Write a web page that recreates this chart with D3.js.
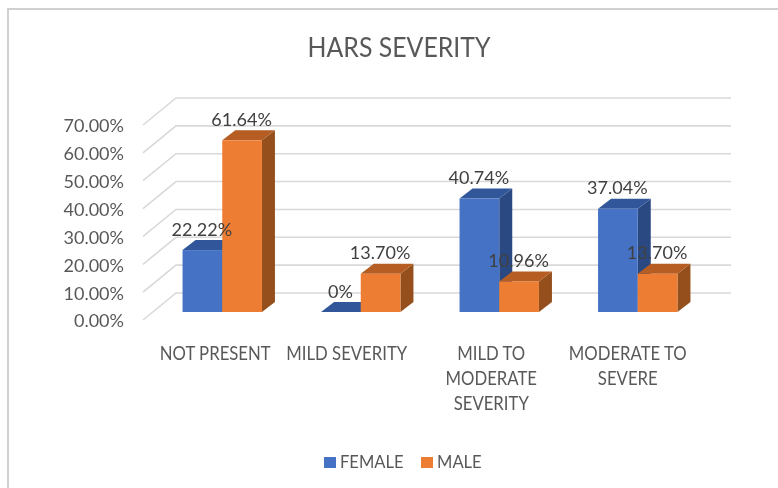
<!DOCTYPE html>
<html>
<head>
<meta charset="utf-8">
<script src="https://cdn.jsdelivr.net/npm/d3@7"></script>
<style>
  html, body { margin: 0; padding: 0; background: #fff; }
  svg { display: block; }
  text { font-family: Lato, "Open Sans", sans-serif; }
</style>
</head>
<body>
<svg id="chart"></svg>
<script>
  const categories = ["NOT PRESENT", "MILD SEVERITY", "MILD TO MODERATE SEVERITY", "MODERATE TO SEVERE"];
  const categoryLines = [["NOT PRESENT"], ["MILD SEVERITY"], ["MILD TO", "MODERATE", "SEVERITY"], ["MODERATE TO", "SEVERE"]];
  const seriesNames = ["FEMALE", "MALE"];
  const femaleValues = [22.22, 0, 40.74, 37.04];
  const maleValues = [61.64, 13.70, 10.96, 13.70];
  const femaleLabels = ["22.22%", "0%", "40.74%", "37.04%"];
  const maleLabels = ["61.64%", "13.70%", "10.96%", "13.70%"];
  const yTicks = [0, 10, 20, 30, 40, 50, 60, 70];

  const width = 778, height = 488;

  // Depth of the back wall and of the bars, as drawn by the 3D chart
  const wallDx = 33, wallDy = 27;
  const barShiftX = 10, barShiftY = 8;
  const barDx = 13, barDy = 10;
  const barWidth = 39.7;

  // Category labels sit a little unevenly in the reference
  const labelNudge = [1, -6, 0, -2];

  const colors = {
    FEMALE: { front: "#4472c4", top: "#33579a", side: "#2a4a82" },
    MALE: { front: "#ed7d31", top: "#b55d20", side: "#94501b" },
  };

  const svg = d3.select("#chart").attr("width", width).attr("height", height);

  // The reference is a soft, upscaled screenshot
  svg.append("defs").append("filter").attr("id", "soft")
    .append("feGaussianBlur").attr("stdDeviation", 0.45);

  const root = svg.append("g").attr("filter", "url(#soft)");

  const xScale = d3.scaleBand().domain(categories).range([143, 697]);
  const yScale = d3.scaleLinear().domain([0, 70]).range([320, 125]);

  // Squeeze or stretch text to a share of its natural width
  function fit(selection, ratio) {
    selection.each(function () {
      const natural = this.getComputedTextLength();
      d3.select(this).attr("textLength", natural * ratio).attr("lengthAdjust", "spacingAndGlyphs");
    });
  }

  // Frame, open on the right and at the bottom
  root.append("path")
    .attr("d", `M8,${height}V9H${width}`)
    .attr("fill", "none")
    .attr("stroke", "#d0d0d0")
    .attr("stroke-width", 2);

  // Title
  root.append("text")
    .attr("x", 399).attr("y", 57)
    .attr("text-anchor", "middle")
    .attr("font-size", 27)
    .attr("fill", "#595959")
    .text("HARS SEVERITY")
    .call(fit, 0.92);

  // Gridlines on the side and back walls
  root.append("g").selectAll("path")
    .data(yTicks)
    .join("path")
    .attr("d", (d) => {
      const y = yScale(d);
      return `M${xScale.range()[0]},${y}L${xScale.range()[0] + wallDx},${y - wallDy}H${xScale.range()[1] + wallDx + 1}`;
    })
    .attr("fill", "none")
    .attr("stroke", "#d9d9d9")
    .attr("stroke-width", 1.6);

  // Y axis
  const yAxis = root.append("g")
    .attr("transform", "translate(124,1.5)")
    .call(d3.axisLeft(yScale).tickValues(yTicks).tickSize(0).tickPadding(0).tickFormat((d) => d.toFixed(2) + "%"));
  yAxis.select(".domain").remove();
  yAxis.selectAll("text")
    .attr("font-size", 17)
    .attr("fill", "#595959")
    .style("font-family", "Lato, sans-serif")
    .call(fit, 1.06);

  // X axis, category names wrapped as in the reference
  const xAxis = root.append("g")
    .attr("transform", "translate(2,320)")
    .call(d3.axisBottom(xScale).tickSize(0).tickFormat(""));
  xAxis.select(".domain").remove();
  xAxis.selectAll(".tick text")
    .attr("y", 0)
    .attr("dy", null)
    .attr("font-size", 19)
    .attr("fill", "#595959")
    .style("font-family", "Lato, sans-serif")
    .each(function (d, i) {
      const label = d3.select(this);
      categoryLines[i].forEach((line, j) => {
        label.append("tspan")
          .attr("x", labelNudge[i])
          .attr("y", 40 + j * 25)
          .text(line);
      });
    });
  xAxis.selectAll(".tick tspan").call(fit, 0.88);

  // Bars
  const series = [
    { name: seriesNames[0], values: femaleValues, labels: femaleLabels, offset: 0 },
    { name: seriesNames[1], values: maleValues, labels: maleLabels, offset: barWidth },
  ];

  const barsGroup = root.append("g");
  categories.forEach((category, i) => {
    series.forEach((s) => {
      const left = xScale(category) + xScale.bandwidth() / 2 + barShiftX - barWidth + s.offset;
      const right = left + barWidth;
      const top = yScale(s.values[i]) - barShiftY;
      const base = yScale(0) - barShiftY;
      const c = colors[s.name];
      const bar = barsGroup.append("g");

      bar.append("path")
        .attr("d", `M${right},${top}l${barDx},${-barDy}V${base - barDy}L${right},${base}Z`)
        .attr("fill", c.side);
      bar.append("path")
        .attr("d", `M${left},${top}l${barDx},${-barDy}H${right + barDx}L${right},${top}Z`)
        .attr("fill", c.top);
      bar.append("rect")
        .attr("x", left)
        .attr("y", top)
        .attr("width", barWidth)
        .attr("height", base - top)
        .attr("fill", c.front);
    });
  });

  // Data labels go above all bars
  categories.forEach((category, i) => {
    series.forEach((s) => {
      const left = xScale(category) + xScale.bandwidth() / 2 + barShiftX - barWidth + s.offset;
      root.append("text")
        .attr("x", left + barWidth / 2 - 0.5)
        .attr("y", yScale(s.values[i]) - barShiftY - 14.5)
        .attr("text-anchor", "middle")
        .attr("font-size", 17)
        .attr("fill", "#404040")
        .text(s.labels[i])
        .call(fit, 1.06);
    });
  });

  // Legend
  const legendX = d3.scaleOrdinal().domain(seriesNames).range([324, 421]);
  const legend = root.append("g").selectAll("g")
    .data(seriesNames)
    .join("g")
    .attr("transform", (d) => `translate(${legendX(d)},0)`);
  legend.append("rect")
    .attr("y", 457)
    .attr("width", 12)
    .attr("height", 11)
    .attr("fill", (d) => colors[d].front);
  legend.append("text")
    .attr("x", 16)
    .attr("y", 468)
    .attr("font-size", 18)
    .attr("fill", "#595959")
    .text((d) => d)
    .call(fit, 0.92);
</script>
</body>
</html>
